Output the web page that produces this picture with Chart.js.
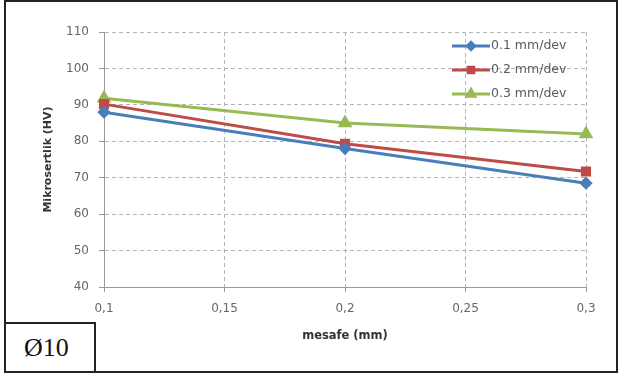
<!DOCTYPE html>
<html>
<head>
<meta charset="utf-8">
<script src="https://cdn.jsdelivr.net/npm/chart.js@4"></script>
<style>
  html, body { margin: 0; padding: 0; background: #fff; }
  #wrap { position: relative; width: 620px; height: 374px; }
  #frame {
    position: absolute; left: 4px; top: 0; width: 614px; height: 373px;
    box-sizing: border-box; border: 2px solid #222; pointer-events: none;
  }
  #tag {
    position: absolute; left: 4px; top: 322px; width: 92px; height: 51px;
    box-sizing: border-box; border: 2px solid #222; background: #fff;
    font-family: "Liberation Serif", serif; font-size: 26px; color: #111;
    line-height: 47px; padding-left: 18px;
  }
</style>
</head>
<body>
<div id="wrap">
  <canvas id="chart" width="620" height="374"></canvas>
  <div id="frame"></div>
  <div id="tag">Ø10</div>
</div>
<script>
// values
const distances = [0.1, 0.2, 0.3];
const feed01 = [88, 78, 68.5];
const feed02 = [90.2, 79.3, 71.7];
const feed03 = [91.8, 85, 82];
const seriesLabels = ['0.1 mm/dev', '0.2 mm/dev', '0.3 mm/dev'];
const xTickValues = [0.1, 0.15, 0.2, 0.25, 0.3];
const yMin = 40, yMax = 110, yStep = 10;

const colors = ['#4a7ebb', '#be4b48', '#98b954'];
const markers = ['rectRot', 'rect', 'triangle'];
const markerSize = [4.5, 5, 5.5];
const textFont = '"DejaVu Sans", sans-serif';

function toPoints(values) {
    return distances.map((d, i) => ({ x: d, y: values[i] }));
}

// legend drawn inside the plot, Excel-style
const insideLegend = {
    id: 'insideLegend',
    afterDatasetsDraw(chart) {
        const ctx = chart.ctx;
        const x0 = 452, x1 = 490;
        const rows = [46, 70, 94];
        ctx.save();
        chart.data.datasets.forEach((ds, i) => {
            const y = rows[i];
            ctx.strokeStyle = ds.borderColor;
            ctx.lineWidth = 3;
            ctx.beginPath();
            ctx.moveTo(x0, y);
            ctx.lineTo(x1, y);
            ctx.stroke();
            ctx.fillStyle = ds.borderColor;
            Chart.helpers.drawPoint(ctx, {
                pointStyle: ds.pointStyle,
                radius: ds.pointRadius * 0.8,
                borderWidth: 1
            }, (x0 + x1) / 2, y);
            ctx.fillStyle = '#5a5a5a';
            ctx.font = '12.5px ' + textFont;
            ctx.textBaseline = 'middle';
            ctx.textAlign = 'left';
            ctx.fillText(ds.label, x1 + 1, y);
        });
        ctx.restore();
    }
};

const ctx = document.getElementById('chart').getContext('2d');
const chart = new Chart(ctx, {
    type: 'line',
    data: {
        datasets: [feed01, feed02, feed03].map((vals, i) => ({
            label: seriesLabels[i],
            data: toPoints(vals),
            borderColor: colors[i],
            backgroundColor: colors[i],
            pointBackgroundColor: colors[i],
            pointBorderColor: colors[i],
            pointStyle: markers[i],
            pointRadius: markerSize[i],
            borderWidth: 3,
            tension: 0,
            clip: false
        }))
    },
    options: {
        responsive: false,
        animation: false,
        layout: { padding: { left: 0, right: 34, top: 32, bottom: 0 } },
        plugins: {
            legend: { display: false },
            tooltip: { enabled: false }
        },
        scales: {
            x: {
                type: 'linear',
                min: 0.1,
                max: 0.3,
                afterBuildTicks: (scale) => {
                    scale.ticks = xTickValues.map(v => ({ value: v }));
                },
                afterFit: (scale) => { scale.height = 87; },
                ticks: {
                    color: '#666',
                    font: { family: textFont, size: 12 },
                    padding: 10,
                    maxRotation: 0,
                    callback: (v) => String(+v.toFixed(2)).replace('.', ',')
                },
                grid: { color: '#b4b4b4', tickLength: 5, tickColor: '#999' },
                border: { color: '#999', width: 1, dash: [4, 3] },
                title: {
                    display: true,
                    text: 'mesafe (mm)',
                    color: '#333',
                    font: { family: textFont, size: 11.5, weight: 'bold' },
                    padding: { top: 0, bottom: 31 }
                }
            },
            y: {
                min: yMin,
                max: yMax,
                afterFit: (scale) => { scale.width = 104; },
                ticks: {
                    stepSize: yStep,
                    color: '#666',
                    font: { family: textFont, size: 12 },
                    padding: 10
                },
                grid: { color: '#b4b4b4', tickLength: 5, tickColor: '#999' },
                border: { color: '#999', width: 1, dash: [4, 3] },
                title: {
                    display: true,
                    text: 'Mikrosertlik (HV)',
                    color: '#333',
                    font: { family: textFont, size: 11, weight: 'bold' },
                    padding: { top: 42, bottom: 0 }
                }
            }
        }
    },
    plugins: [insideLegend]
});
</script>
</body>
</html>
